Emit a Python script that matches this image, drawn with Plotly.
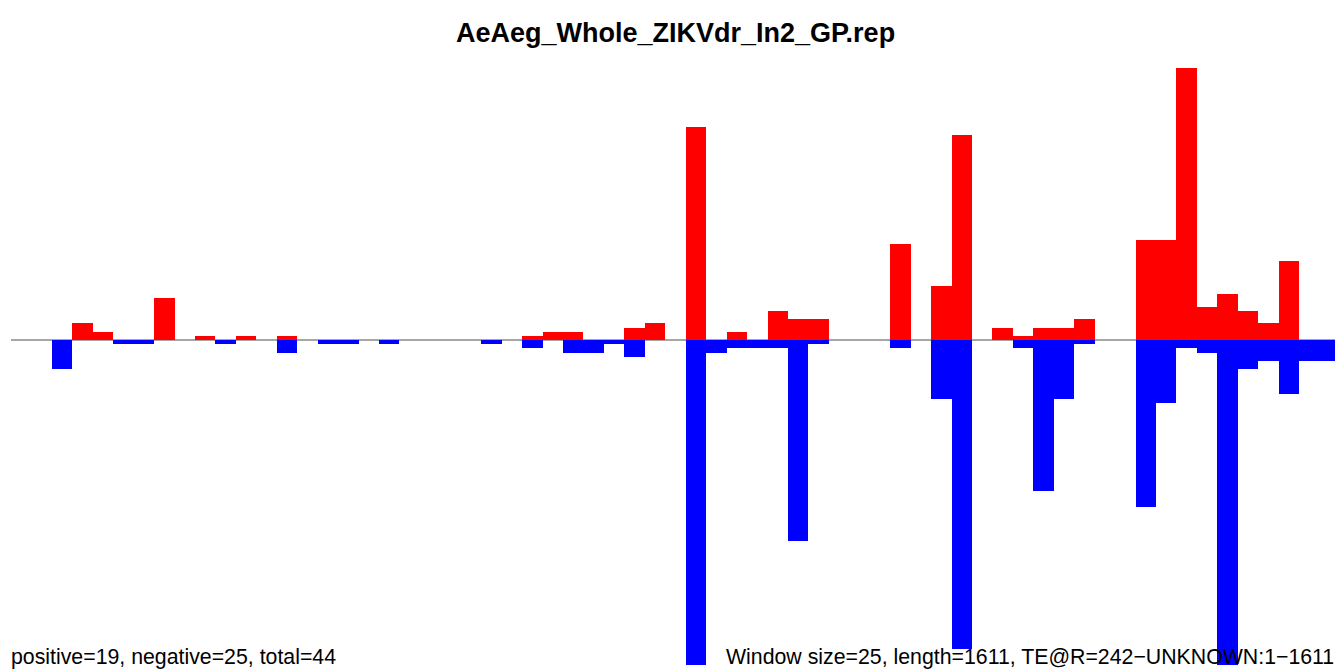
import plotly.graph_objects as go

# coverage per 25 bp window, forward (red) and reverse (blue) strand
windows = list(range(65))
positive = [0, 0, 0, 4, 2, 0, 0, 10, 0, 1,
            0, 1, 0, 1, 0, 0, 0, 0, 0, 0,
            0, 0, 0, 0, 0, 1, 2, 2, 0, 0,
            3, 4, 0, 51, 0, 2, 0, 7, 5, 5,
            0, 0, 0, 23, 0, 13, 49, 0, 3, 1,
            3, 3, 5, 0, 0, 24, 24, 65, 8, 11,
            7, 4, 19, 0, 0]
negative = [0, 0, 7, 0, 0, 1, 1, 0, 0, 0,
            1, 0, 0, 3, 0, 1, 1, 0, 1, 0,
            0, 0, 0, 1, 0, 2, 0, 3, 3, 1,
            4, 0, 0, 80, 3, 2, 2, 2, 48, 1,
            0, 0, 0, 2, 0, 14, 74, 0, 0, 2,
            36, 14, 1, 0, 0, 40, 15, 2, 3, 80,
            7, 5, 13, 5, 5]

title = "AeAeg_Whole_ZIKVdr_In2_GP.rep"
left_note = "positive=19, negative=25, total=44"
right_note = "Window size=25, length=1611, TE@R=242\u2212UNKNOWN:1\u22121611"

fig = go.Figure()
fig.add_trace(go.Bar(x=windows, y=positive, marker=dict(color="#ff0000", line=dict(width=0)),
                     width=1.0, hoverinfo="skip"))
fig.add_trace(go.Bar(x=windows, y=[-v for v in negative], marker=dict(color="#0000ff", line=dict(width=0)),
                     width=1.0, hoverinfo="skip"))

# zero line under the bars
fig.add_shape(type="line", xref="x", yref="y", x0=-0.5, x1=64.5, y0=0, y1=0,
              line=dict(color="#888888", width=1.5), layer="below")

# page has an 8px body margin, so the figure is a bit smaller than the window
fig.update_layout(
    width=1335, height=662,
    barmode="overlay", bargap=0,
    showlegend=False,
    plot_bgcolor="white", paper_bgcolor="white",
    margin=dict(l=3, r=3, t=52, b=5),
    xaxis=dict(range=[-0.5, 64.5], visible=False, fixedrange=True),
    yaxis=dict(range=[-77.75, 67.0], visible=False, fixedrange=True),
    font=dict(family="Liberation Sans, Arial, sans-serif", color="black"),
)

fig.add_annotation(text="<b>" + title + "</b>", xref="paper", yref="paper",
                   x=0.5, y=1.0, yshift=27, xanchor="center", yanchor="middle",
                   showarrow=False, font=dict(size=27))
fig.add_annotation(text=left_note, xref="paper", yref="paper",
                   x=0, y=0, xshift=-2, yshift=-6, xanchor="left", yanchor="bottom",
                   showarrow=False, font=dict(size=21.3))
fig.add_annotation(text=right_note, xref="paper", yref="paper",
                   x=1, y=0, xshift=-4, yshift=-6, xanchor="right", yanchor="bottom",
                   showarrow=False, font=dict(size=21.3))

fig.write_html("out.html")
